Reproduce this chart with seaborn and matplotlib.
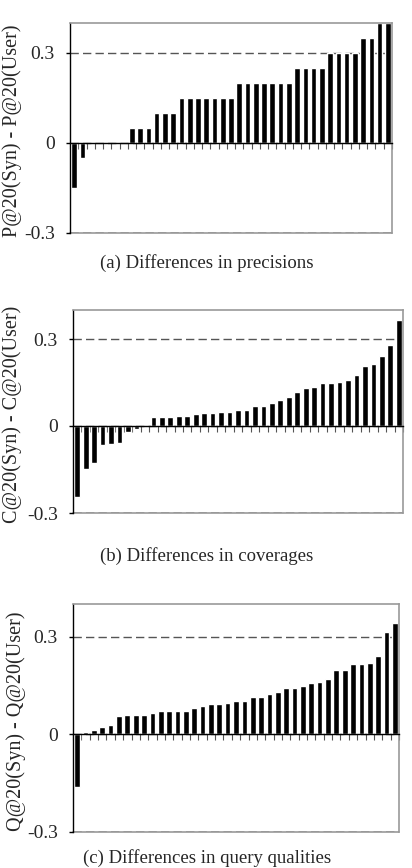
import numpy as np
import pandas as pd
import matplotlib
matplotlib.use("Agg")
import matplotlib.pyplot as plt
import seaborn as sns

# per-query differences, sorted ascending
prec_diff = [-0.15, -0.05, 0.0, 0.0, 0.0, 0.0, 0.0, 0.05, 0.05, 0.05,
             0.10, 0.10, 0.10, 0.15, 0.15, 0.15, 0.15, 0.15, 0.15, 0.15,
             0.20, 0.20, 0.20, 0.20, 0.20, 0.20, 0.20, 0.25, 0.25, 0.25,
             0.25, 0.30, 0.30, 0.30, 0.30, 0.35, 0.35, 0.40, 0.40]
cov_diff = [-0.245, -0.148, -0.127, -0.066, -0.061, -0.057, -0.020, -0.011, 0.0, 0.030,
            0.030, 0.030, 0.036, 0.036, 0.040, 0.045, 0.045, 0.050, 0.050, 0.056,
            0.056, 0.070, 0.070, 0.081, 0.091, 0.101, 0.116, 0.132, 0.136, 0.147,
            0.147, 0.151, 0.157, 0.177, 0.207, 0.213, 0.243, 0.278, 0.366]
qual_diff = [-0.163, 0.008, 0.013, 0.023, 0.028, 0.056, 0.060, 0.060, 0.060, 0.064,
             0.073, 0.073, 0.073, 0.073, 0.082, 0.088, 0.092, 0.092, 0.097, 0.101,
             0.101, 0.115, 0.115, 0.125, 0.129, 0.143, 0.143, 0.147, 0.157, 0.161,
             0.171, 0.198, 0.198, 0.216, 0.216, 0.220, 0.239, 0.313, 0.341]

ylabels = ["P@20(Syn) - P@20(User)", "C@20(Syn) - C@20(User)", "Q@20(Syn) - Q@20(User)"]
captions = ["(a) Differences in precisions", "(b) Differences in coverages",
            "(c) Differences in query qualities"]
yticks = [-0.3, 0.0, 0.3]
ytick_labels = ["-0.3", "0", "0.3"]

sns.set_style("white")
plt.rcParams["font.family"] = ["Liberation Serif", "DejaVu Serif"]

W, H = 412, 868
fig = plt.figure(figsize=(W / 100, H / 100), dpi=100)

# axes boxes in pixels: left, right, top, bottom
boxes = [(70, 392, 23, 233), (73, 403, 310, 513), (73, 399, 604, 832)]
ylabel_x = [12, 12, 16]
caption_y = [263, 556, 858]

for k, vals in enumerate([prec_diff, cov_diff, qual_diff]):
    l, r, t, b = boxes[k]
    ax = fig.add_axes([l / W, 1 - b / H, (r - l) / W, (b - t) / H])
    df = pd.DataFrame({"query": range(len(vals)), "diff": vals})
    sns.barplot(data=df, x="query", y="diff", color="black", saturation=1,
                width=0.68, ax=ax)
    n = len(vals)
    ax.set_xlim(-0.5, n - 0.5)
    ax.set_ylim(-0.3, 0.4)
    ax.set_xlabel("")
    ax.set_ylabel("")
    ax.set_xticks(np.arange(-0.5, n, 1.0))
    ax.set_xticklabels([])
    ax.tick_params(axis="x", direction="out", length=4, width=0.8,
                   color="#555", bottom=True)
    ax.set_yticks(yticks)
    ax.set_yticklabels(ytick_labels)
    ax.tick_params(axis="y", direction="out", length=3, width=1,
                   color="black", labelsize=14, pad=8, left=True)

    ax.set_axisbelow(True)
    ax.yaxis.grid(True, linestyle=(0, (6, 3)), color="#555", lw=1)
    ax.axhline(-0.3, color="#999", lw=1.2, zorder=0.5, clip_on=False)

    ax.spines["bottom"].set_position(("data", 0))
    ax.spines["bottom"].set_color("black")
    ax.spines["bottom"].set_linewidth(1)
    ax.spines["left"].set_color("black")
    ax.spines["left"].set_linewidth(1)
    for s in ["top", "right"]:
        ax.spines[s].set_color("#999")
        ax.spines[s].set_linewidth(1.2)

    fig.text(ylabel_x[k] / W, 1 - ((t + b) / 2 + 3) / H, ylabels[k], rotation=90,
             ha="center", va="center", fontsize=14.5)
    fig.text(207 / W, 1 - caption_y[k] / H, captions[k],
             ha="center", va="center", fontsize=13.5)

fig.savefig("out.png", dpi=100)
